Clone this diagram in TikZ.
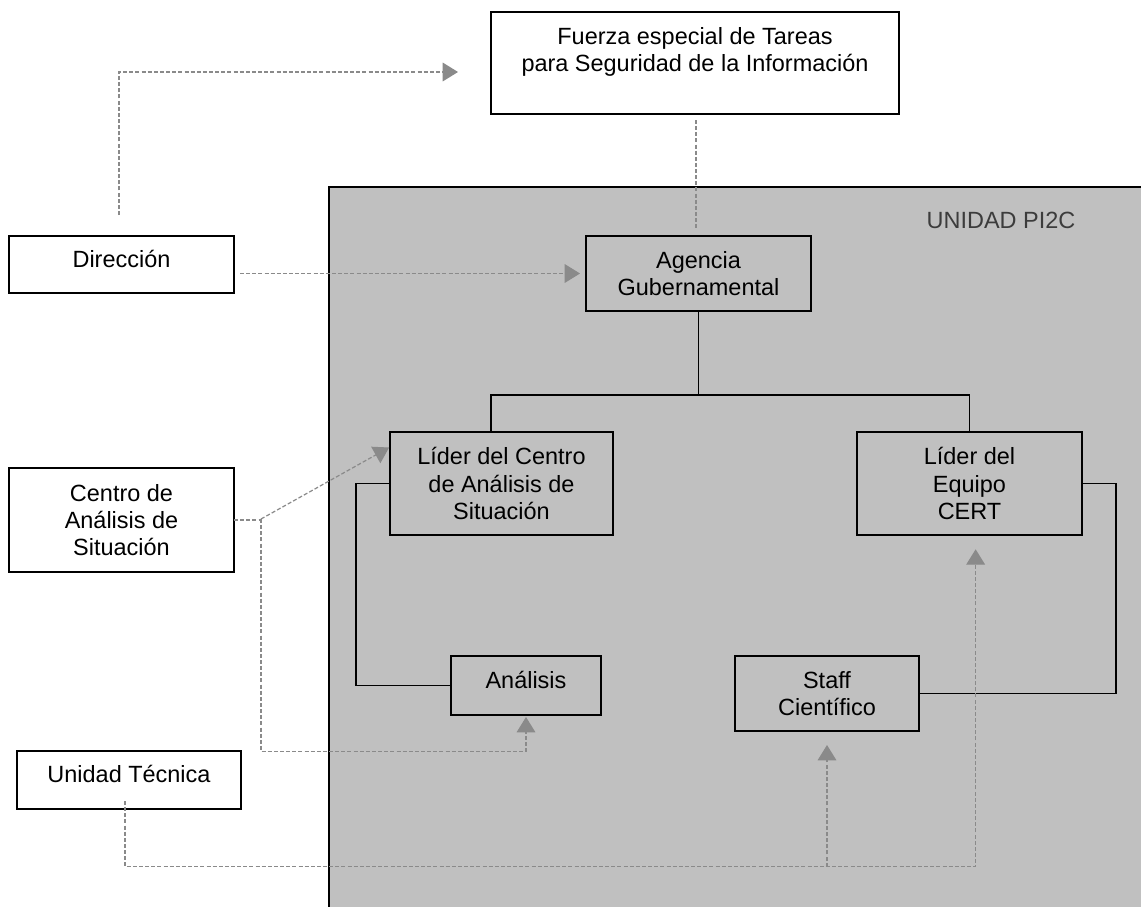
\documentclass[tikz,border=0pt]{standalone}
\usepackage{fontspec}
\setmainfont{Liberation Sans}
\usetikzlibrary{arrows.meta}
\definecolor{unitgray}{HTML}{C0C0C0}
\definecolor{linkgray}{HTML}{8A8A8A}
\definecolor{labelgray}{HTML}{3C3C3C}
\begin{document}
\begin{tikzpicture}[x=0.75pt,y=-0.75pt,
  box/.style={draw=black,line width=1.4pt,inner sep=0pt,outer sep=0pt,align=center,
    font=\fontsize{17.6}{20.3}\selectfont},
  wbox/.style={box,fill=white},
  oneline/.style={text depth=9pt},
  tree/.style={draw=black,line width=1.4pt},
  link/.style={draw=linkgray,line width=0.9pt,dash pattern=on 3pt off 1.6pt},
  linkarr/.style={link,-{Triangle[length=11.5pt,width=14pt,fill=linkgray]}}]
\useasboundingbox (0,0) rectangle (1141,907);
\fill[white] (0,0) rectangle (1141,907);
% unit area
\fill[unitgray] (329,187) rectangle (1141,907);
\draw[line width=1.4pt] (1141,187) -- (329,187) -- (329,907);
\node[font=\fontsize{17.6}{20.3}\selectfont,text=labelgray] (unit) at (1001,220) {UNIDAD PI2C};
% boxes
\node[wbox,minimum width=306pt,minimum height=76.5pt] (fza) at (695,63)
  {Fuerza especial de Tareas\\para Seguridad de la Información\\\mbox{}};
\node[wbox,oneline,minimum width=168.75pt,minimum height=42.75pt] (dir) at (121.5,264.5) {Dirección};
\node[wbox,minimum width=168.75pt,minimum height=78pt] (cas) at (121.5,520) {Centro de\\Análisis de\\Situación};
\node[wbox,oneline,minimum width=168pt,minimum height=43.5pt] (ut) at (129,780) {Unidad Técnica};
\node[box,minimum width=168.75pt,minimum height=56.25pt] (age) at (698.5,273.5) {Agencia\\Gubernamental};
\node[box,minimum width=167.25pt,minimum height=77.25pt] (lid) at (501.5,483.5) {Líder del Centro\\de Análisis de\\Situación};
\node[box,minimum width=168.75pt,minimum height=77.25pt] (cert) at (969.5,483.5) {Líder del\\Equipo\\CERT};
\node[box,oneline,minimum width=112.5pt,minimum height=44.25pt] (ana) at (526,685.5) {Análisis};
\node[box,minimum width=138pt,minimum height=56.25pt] (stf) at (827,693.5) {Staff\\Científico};
% solid tree
\coordinate (bus) at ([yshift=-63pt]age.south);
\draw[tree] (age.south) -- (bus);
\draw[tree] ([xshift=-7.9pt]lid.north) |- (bus) -| (cert.north);
\draw[tree] (lid.west) -- ++(-34,0) |- (ana.west);
\draw[tree] (cert.east) -- ++(34,0) |- (stf.east);
% dashed links
\draw[linkarr,shorten <=15.75pt,shorten >=24.75pt] ([xshift=-1.9pt]dir.north) |- ([yshift=-6.75pt]fza.west);
\draw[link,shorten <=4.5pt,shorten >=6pt] ([xshift=0.75pt]fza.south) -- ([xshift=0.75pt]fza.south |- age.north);
\draw[linkarr,shorten <=4.5pt,shorten >=4.5pt] (dir.east |- age.west) -- (age.west);
\coordinate (j1) at (261,519);
\coordinate (j2) at (261,751.5);
\draw[link] (cas.east) -- (cas.east -| j1);
\draw[linkarr,shorten >=0.75pt] (j1) -- ([yshift=-11.25pt]lid.north west);
\draw[linkarr,shorten >=1.5pt] (j1) -- (j2) -| (ana.south);
\coordinate (j3) at (125,866.7);
\draw[linkarr,shorten >=10.7pt] ([xshift=-3pt,yshift=6pt]ut.south) -- (j3) -| ([xshift=4.6pt]cert.south);
\draw[linkarr,shorten >=10.5pt] (stf.south |- j3) -- (stf.south);
\end{tikzpicture}
\end{document}
